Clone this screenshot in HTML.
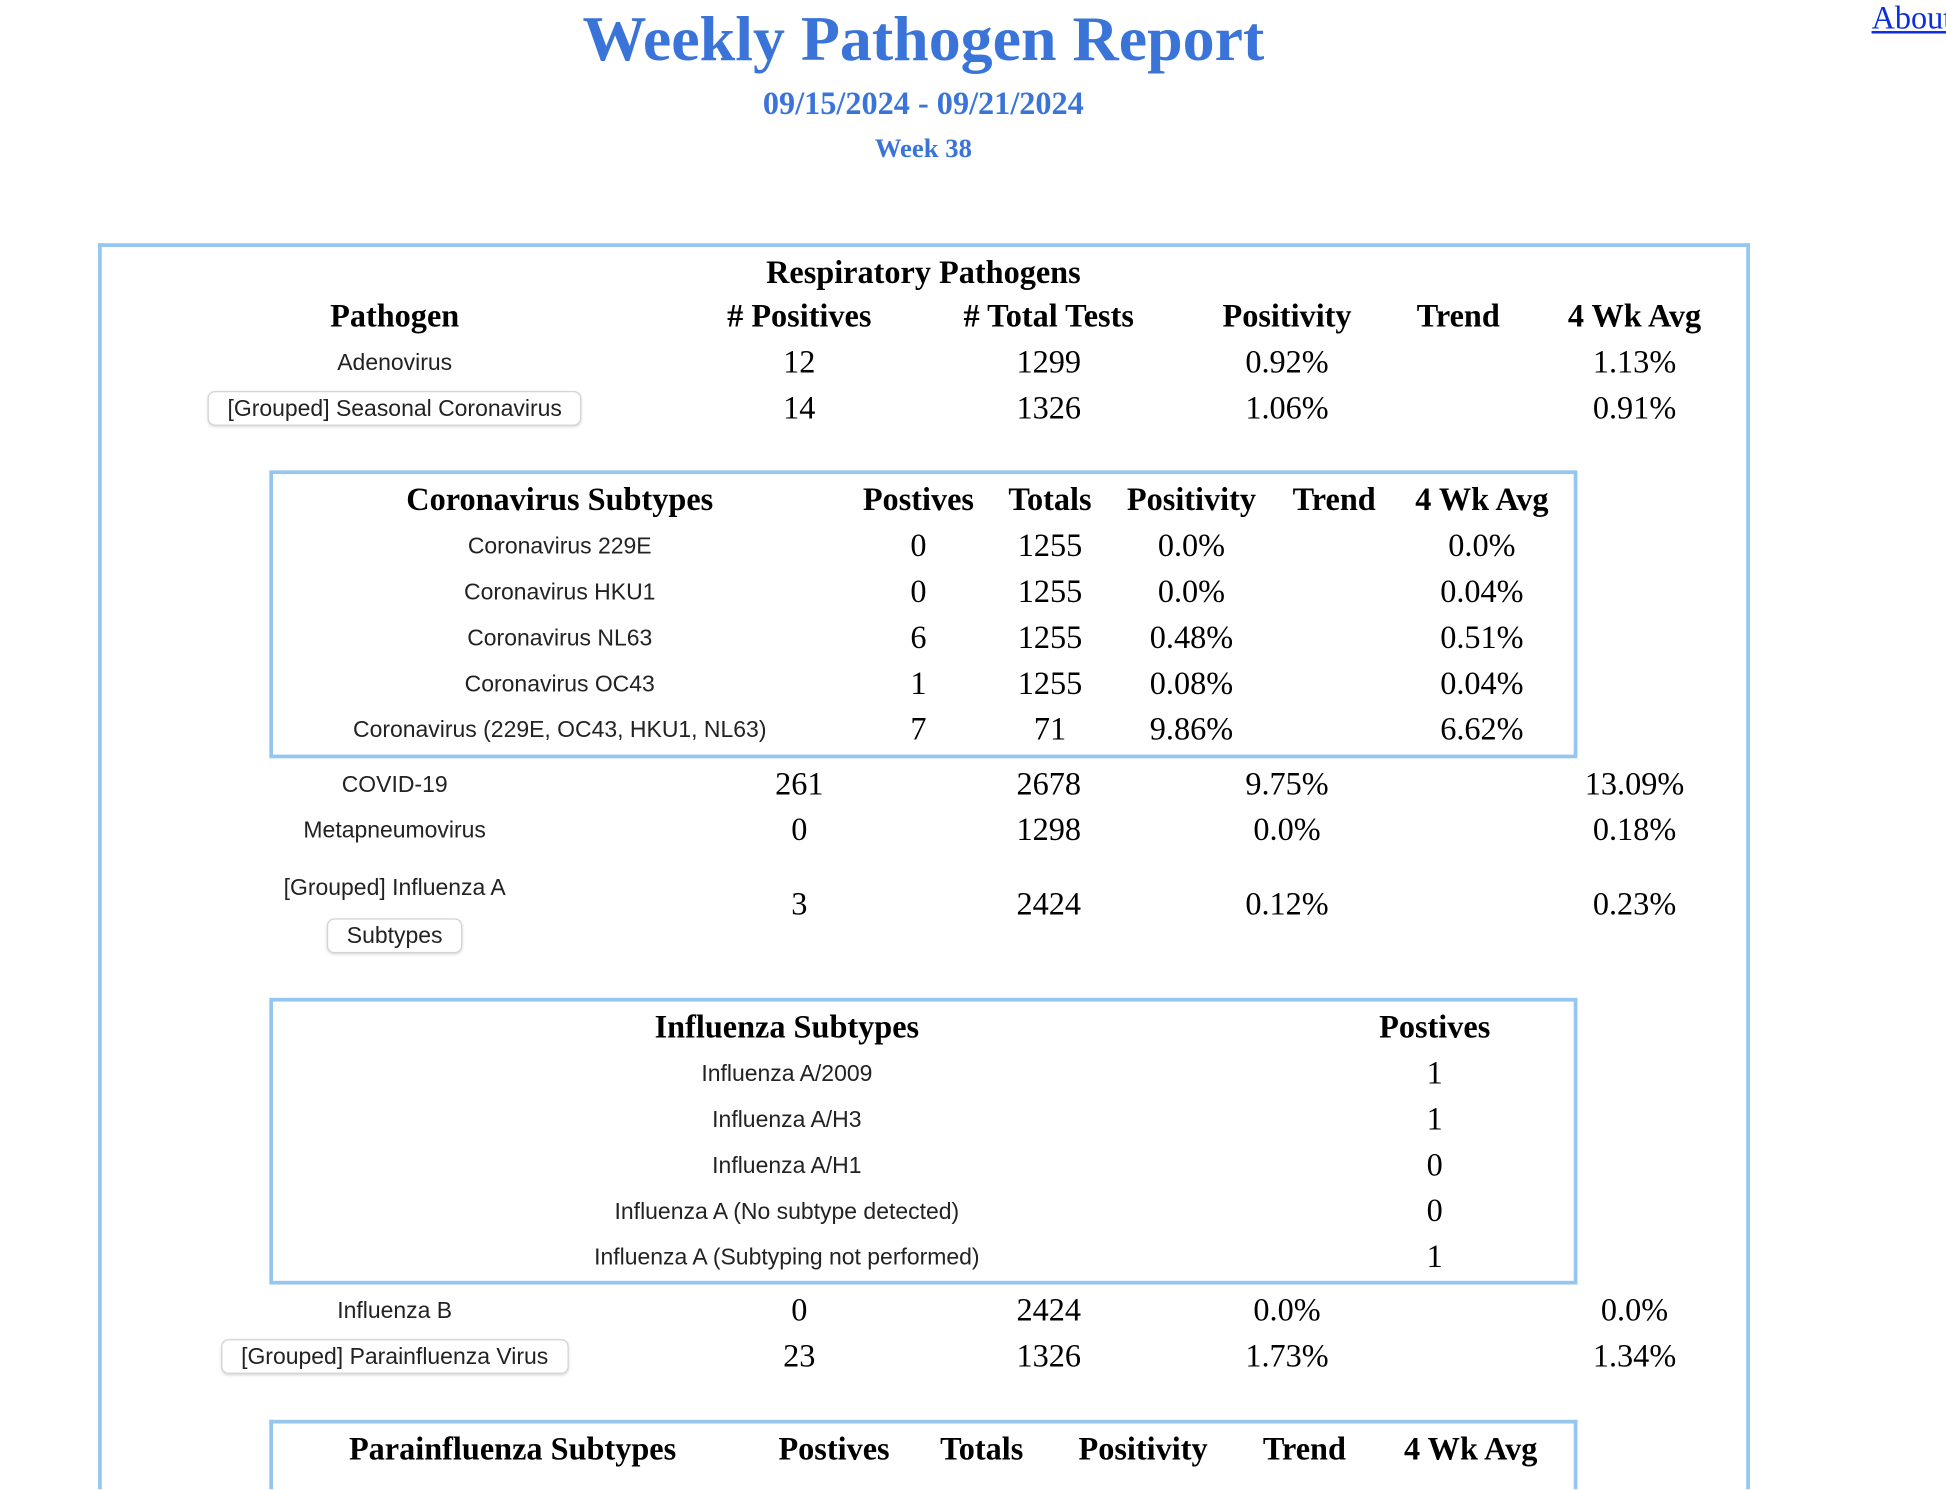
<!DOCTYPE html>
<html><head><meta charset="utf-8">
<style>
html,body{margin:0;padding:0;background:#fff;overflow:hidden;width:1946px;height:1490px}
#clip{position:absolute;left:0;top:0;width:1946px;height:1490px;overflow:hidden}
#wrap{position:absolute;left:0;top:0;width:1568px;height:1200px;overflow:hidden;transform:scale(1.2411);transform-origin:0 0}
.t{position:absolute;transform:translate(-50%,-50%);white-space:nowrap}
.serif{font-family:"Liberation Serif",serif}
.h{font-family:"Liberation Serif",serif;font-weight:bold;font-size:26px;color:#000}
.v{font-family:"Liberation Serif",serif;font-size:26px;color:#000}
.s{font-family:"Liberation Sans",sans-serif;font-size:18.5px;color:#222}
.btn{font-family:"Liberation Sans",sans-serif;font-size:18.5px;color:#222;background:#fff;border:1px solid #d4d4d4;border-radius:6px;padding:2px 15px;box-shadow:0 1px 2px rgba(0,0,0,.15)}
.box{position:absolute;border:3px solid #95c6ef;box-sizing:border-box}
</style></head><body>
<div id="clip">
<div id="wrap">
<div class="t serif" style="left:744px;top:32px;font-size:51.5px;font-weight:bold;color:#3b74d8">Weekly Pathogen Report</div>
<div class="t serif" style="left:744px;top:84px;font-size:26px;font-weight:bold;color:#3b74d8">09/15/2024 - 09/21/2024</div>
<div class="t serif" style="left:744px;top:120px;font-size:21.5px;font-weight:bold;color:#3b74d8">Week 38</div>
<a href="#" style="position:absolute;left:1508px;top:0px;font-family:'Liberation Serif',serif;font-size:26px;color:#0b2fe0;text-decoration:underline">About</a>
<div class="box" style="left:79px;top:196px;width:1331px;height:1004px;border-bottom:none"></div>
<div class="box" style="left:217px;top:379px;width:1054px;height:232px"></div>
<div class="box" style="left:217px;top:804px;width:1054px;height:231px"></div>
<div class="box" style="left:217px;top:1144px;width:1054px;height:56px;border-bottom:none"></div>
</div>
</div>
<script>
const W=document.getElementById('wrap');
function add(cls,x,y,txt,name,inter){
  const el=document.createElement('div');
  el.className='t '+cls;
  el.style.left=x+'px';el.style.top=(y+1)+'px';
  el.textContent=txt;
  
  
  W.appendChild(el);
}
add('h',744,219,'Respiratory Pathogens','section-title',false);
const mainCols=[318,644,845,1037,1175,1317];
const mainHdr=['Pathogen','# Positives','# Total Tests','Positivity','Trend','4 Wk Avg'];
mainHdr.forEach((h,i)=>add('h',mainCols[i],254,h,'column-header',false));
const mainRows=[
 [291,'Adenovirus','s','12','1299','0.92%','1.13%'],
 [328,'[Grouped] Seasonal Coronavirus','btn','14','1326','1.06%','0.91%'],
 [631,'COVID-19','s','261','2678','9.75%','13.09%'],
 [668,'Metapneumovirus','s','0','1298','0.0%','0.18%'],
 [728,'','s','3','2424','0.12%','0.23%'],
 [1055,'Influenza B','s','0','2424','0.0%','0.0%'],
 [1092,'[Grouped] Parainfluenza Virus','btn','23','1326','1.73%','1.34%']
];
mainRows.forEach(r=>{
  if(r[1]) add(r[2],318,r[0],r[1],r[2]=='btn'?'pathogen-group-button':'pathogen-name',r[2]=='btn');
  add('v',644,r[0],r[3],'positives-cell',false);
  add('v',845,r[0],r[4],'total-tests-cell',false);
  add('v',1037,r[0],r[5],'positivity-cell',false);
  add('v',1317,r[0],r[6],'four-week-avg-cell',false);
});
add('s',318,714,'[Grouped] Influenza A','pathogen-name',false);
add('btn',318,753,'Subtypes','influenza-subtypes-button',true);
const covCols=[451,740,846,960,1075,1194];
const covHdr=['Coronavirus Subtypes','Postives','Totals','Positivity','Trend','4 Wk Avg'];
covHdr.forEach((h,i)=>add('h',covCols[i],402,h,'subtype-column-header',false));
const covRows=[
 ['Coronavirus 229E','0','1255','0.0%','0.0%'],
 ['Coronavirus HKU1','0','1255','0.0%','0.04%'],
 ['Coronavirus NL63','6','1255','0.48%','0.51%'],
 ['Coronavirus OC43','1','1255','0.08%','0.04%'],
 ['Coronavirus (229E, OC43, HKU1, NL63)','7','71','9.86%','6.62%']
];
covRows.forEach((r,i)=>{
  const y=439+i*37;
  add('s',451,y,r[0],'subtype-name',false);
  add('v',740,y,r[1],'subtype-positives',false);
  add('v',846,y,r[2],'subtype-totals',false);
  add('v',960,y,r[3],'subtype-positivity',false);
  add('v',1194,y,r[4],'subtype-four-week-avg',false);
});
add('h',634,827,'Influenza Subtypes','influenza-subtypes-header',false);
add('h',1156,827,'Postives','influenza-positives-header',false);
const fluRows=[['Influenza A/2009','1'],['Influenza A/H3','1'],['Influenza A/H1','0'],['Influenza A (No subtype detected)','0'],['Influenza A (Subtyping not performed)','1']];
fluRows.forEach((r,i)=>{
  const y=864+i*37;
  add('s',634,y,r[0],'influenza-subtype-name',false);
  add('v',1156,y,r[1],'influenza-subtype-positives',false);
});
const paraCols=[413,672,791,921,1051,1185];
const paraHdr=['Parainfluenza Subtypes','Postives','Totals','Positivity','Trend','4 Wk Avg'];
paraHdr.forEach((h,i)=>add('h',paraCols[i],1167,h,'parainfluenza-column-header',false));
</script>
</body></html>
